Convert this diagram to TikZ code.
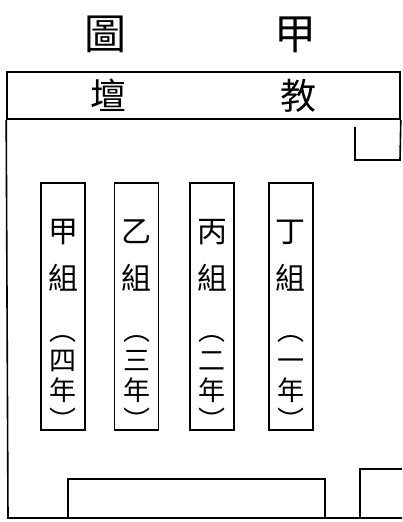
\documentclass[tikz,border=0pt]{standalone}
\usepackage{fontspec}
\newfontfamily\cjk{Noto Sans CJK TC}
\usetikzlibrary{positioning}
\tikzset{
  desk/.style={rectangle, draw, line width=1.6pt, minimum width=44pt, minimum height=247pt, inner sep=0pt},
  deskname/.style={font=\cjk\fontsize{30}{47}\selectfont, align=center, inner sep=0pt},
  deskyear/.style={font=\cjk\fontsize{27}{30}\selectfont, align=center, inner sep=0pt},
  wall/.style={draw, line width=1.6pt},
  band/.style={rectangle, draw, line width=1.6pt, minimum width=393pt, minimum height=47pt, inner sep=0pt, font=\cjk\fontsize{36}{36}\selectfont},
  title/.style={font=\cjk\fontsize{42}{42}\selectfont, inner sep=0pt}
}

\begin{document}
\begin{tikzpicture}[x=1pt, y=1pt]
\useasboundingbox (0,0) rectangle (402,522);

% title
\node [title] (title) at (200,488) {圖\hspace{148pt}甲};

% platform
\node [band] (platform) at (203.5,426.5) {壇\hspace{154pt}教};

% walls
\draw [wall] (platform.south west) -- (8,4) -- (402,4);
\draw [wall] (platform.south east) -- (400,362) -- (355,362) -- (355,395);
\draw [wall] (402,53) -- (360,53) -- (360,4);
\draw [wall] (68,4) -- (68,43) -- (325,43) -- (325,4);

% desks
\node [desk] (desk1) at (63,215.5) {};
\node [desk, right=28pt of desk1] (desk2) {};
\node [desk, right=30pt of desk2] (desk3) {};
\node [desk, right=33pt of desk3] (desk4) {};

% labels
\node [deskname] (name1) at ([yshift=-73.5pt]desk1.north) {甲\\組};
\node [deskname] (name2) at ([yshift=-73.5pt]desk2.north) {乙\\組};
\node [deskname] (name3) at ([yshift=-73.5pt]desk3.north) {丙\\組};
\node [deskname] (name4) at ([yshift=-73.5pt]desk4.north) {丁\\組};

\node [deskyear] (year1) at ([yshift=-201pt]desk1.north) {︵\\四\\年\\︶};
\node [deskyear] (year2) at ([yshift=-201pt]desk2.north) {︵\\三\\年\\︶};
\node [deskyear] (year3) at ([yshift=-201pt]desk3.north) {︵\\二\\年\\︶};
\node [deskyear] (year4) at ([yshift=-201pt]desk4.north) {︵\\一\\年\\︶};

\end{tikzpicture}
\end{document}
